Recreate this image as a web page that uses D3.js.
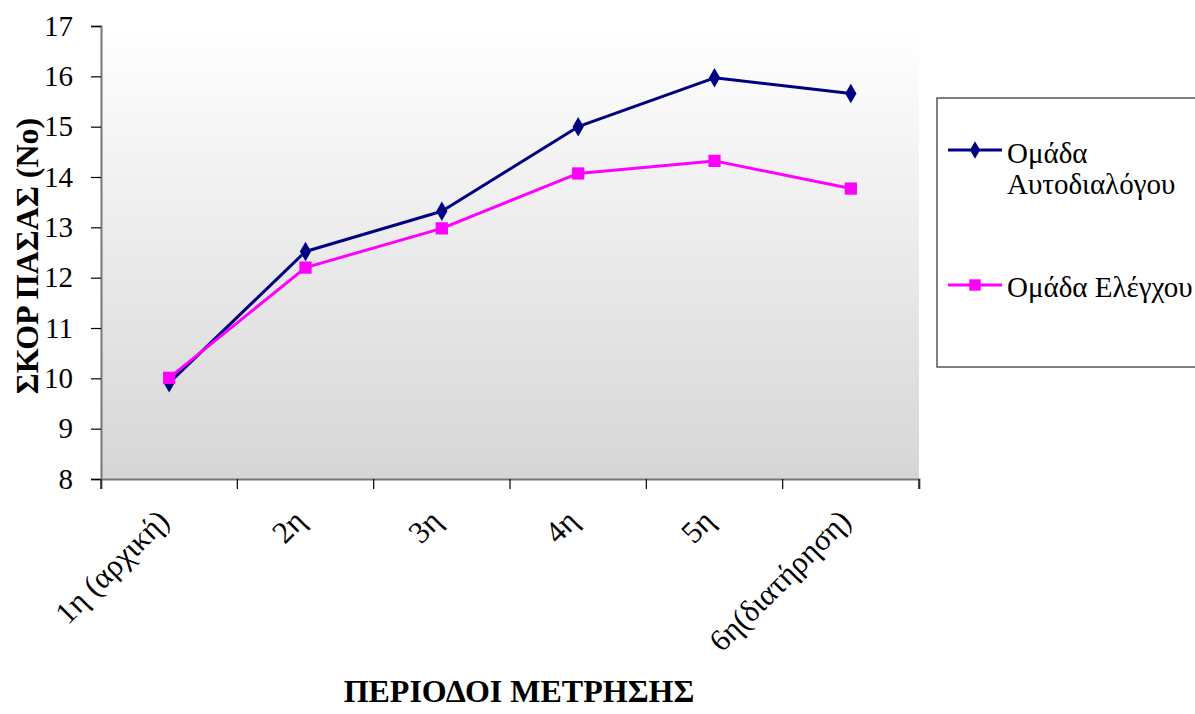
<!DOCTYPE html>
<html>
<head>
<meta charset="utf-8">
<script src="https://cdn.jsdelivr.net/npm/d3@7"></script>
<style>
  html, body { margin: 0; padding: 0; background: #ffffff; }
</style>
</head>
<body>
<script>
// Measurement periods and mean scores per group
const periods = ["1η (αρχική)", "2η", "3η", "4η", "5η", "6η(διατήρηση)"];
const selfTalkScores = [9.91, 12.52, 13.32, 15.0, 15.97, 15.66];
const controlScores = [10.01, 12.2, 12.98, 14.07, 14.32, 13.77];
const seriesNames = ["Ομάδα Αυτοδιαλόγου", "Ομάδα Ελέγχου"];
const yTicks = [8, 9, 10, 11, 12, 13, 14, 15, 16, 17];

const W = 1195, H = 714;
const plot = { left: 101, right: 919, top: 26, bottom: 479 };
const FONT = '"Liberation Serif", "Times New Roman", Tinos';

const svg = d3.select("body").append("svg").attr("width", W).attr("height", H);

const x = d3.scaleBand().domain(periods).range([plot.left, plot.right]);
const y = d3.scaleLinear().domain([8, 17]).range([plot.bottom, plot.top]);

// plot area background: light vertical gradient
const defs = svg.append("defs");
const grad = defs.append("linearGradient").attr("id", "plotBg")
  .attr("x1", 0).attr("y1", 0).attr("x2", 0).attr("y2", 1);
grad.append("stop").attr("offset", "0%").attr("stop-color", "#ffffff");
grad.append("stop").attr("offset", "100%").attr("stop-color", "#d6d6d6");

svg.append("rect")
  .attr("x", plot.left).attr("y", plot.top)
  .attr("width", plot.right - plot.left).attr("height", plot.bottom - plot.top)
  .attr("fill", "url(#plotBg)");

// axes
const yAxis = svg.append("g")
  .attr("transform", `translate(${plot.left},0)`)
  .call(d3.axisLeft(y).tickValues(yTicks).tickSize(10).tickPadding(18).tickFormat(d3.format("d")));
yAxis.attr("font-family", null).attr("font-size", null);
const xAxis = svg.append("g")
  .attr("transform", `translate(0,${plot.bottom})`)
  .call(d3.axisBottom(x).tickSize(10).tickFormat(""));

// category boundary ticks (between periods, plus both ends)
xAxis.selectAll(".tick").remove();
const bounds = periods.map(p => x(p)).concat([x(periods[periods.length - 1]) + x.bandwidth()]);
xAxis.selectAll("line.bt").data(bounds).enter().append("line")
  .attr("class", "bt")
  .attr("x1", d => d).attr("x2", d => d).attr("y1", 0).attr("y2", 10)
  .attr("stroke", "#000").attr("stroke-width", 1.2);

[yAxis, xAxis].forEach(g => {
  g.select(".domain").attr("stroke", "#777").attr("stroke-width", 2);
});
yAxis.selectAll(".tick line").attr("stroke", "#000").attr("stroke-width", 1.2);
yAxis.selectAll(".tick text")
  .style("font-family", FONT)
  .style("font-size", "29px").attr("fill", "#000");

// rotated category labels
svg.append("g").selectAll("text").data(periods).enter().append("text")
  .attr("transform", d => `translate(${x(d) + x.bandwidth() / 2 - 6},${plot.bottom + 36}) rotate(-45)`)
  .attr("text-anchor", "end")
  .attr("dy", "0.35em")
  .style("font-family", FONT)
  .style("font-size", "31px")
  .attr("fill", "#000")
  .text(d => d);

// series
const series = [
  { name: seriesNames[0], values: selfTalkScores, color: "#000080", shape: d3.symbolDiamond },
  { name: seriesNames[1], values: controlScores, color: "#ff00ff", shape: d3.symbolSquare }
];

const line = d3.line()
  .x((d, i) => x(periods[i]) + x.bandwidth() / 2)
  .y(d => y(d));

series.forEach(s => {
  const g = svg.append("g");
  g.append("path").datum(s.values)
    .attr("d", line).attr("fill", "none")
    .attr("stroke", s.color).attr("stroke-width", 3).attr("stroke-linejoin", "round");
  g.selectAll("path.m").data(s.values).enter().append("path")
    .attr("class", "m")
    .attr("transform", (d, i) => `translate(${x(periods[i]) + x.bandwidth() / 2},${y(d)})`)
    .attr("d", d3.symbol().type(s.shape).size(s.shape === d3.symbolSquare ? 150 : 110))
    .attr("fill", s.color);
});

// legend
const lg = svg.append("g");
lg.append("rect")
  .attr("x", 937).attr("y", 98).attr("width", 270).attr("height", 269)
  .attr("fill", "#fff").attr("stroke", "#555").attr("stroke-width", 1.5);

const legendRows = [
  { s: series[0], y: 150, base: 163, lines: ["Ομάδα", "Αυτοδιαλόγου"] },
  { s: series[1], y: 285, base: 297, lines: ["Ομάδα Ελέγχου"] }
];
legendRows.forEach(r => {
  lg.append("line")
    .attr("x1", 948).attr("x2", 1002).attr("y1", r.y).attr("y2", r.y)
    .attr("stroke", r.s.color).attr("stroke-width", 3);
  lg.append("path")
    .attr("transform", `translate(975,${r.y})`)
    .attr("d", d3.symbol().type(r.s.shape).size(r.s.shape === d3.symbolSquare ? 130 : 90))
    .attr("fill", r.s.color);
  r.lines.forEach((t, i) => {
    lg.append("text")
      .attr("x", 1007).attr("y", r.base + i * 31)
      .style("font-family", FONT)
      .style("font-size", "29px").attr("fill", "#000")
      .text(t);
  });
});

// axis titles
svg.append("text")
  .attr("transform", `translate(38,256) rotate(-90)`)
  .attr("text-anchor", "middle")
  .style("font-family", FONT)
  .style("font-size", "32px").style("font-weight", "bold").attr("fill", "#000")
  .text("ΣΚΟΡ ΠΑΣΑΣ (No)");

svg.append("text")
  .attr("x", 519).attr("y", 702)
  .attr("text-anchor", "middle")
  .style("font-family", FONT)
  .style("font-size", "32px").style("font-weight", "bold").attr("fill", "#000")
  .text("ΠΕΡΙΟΔΟΙ ΜΕΤΡΗΣΗΣ");
</script>
</body>
</html>
